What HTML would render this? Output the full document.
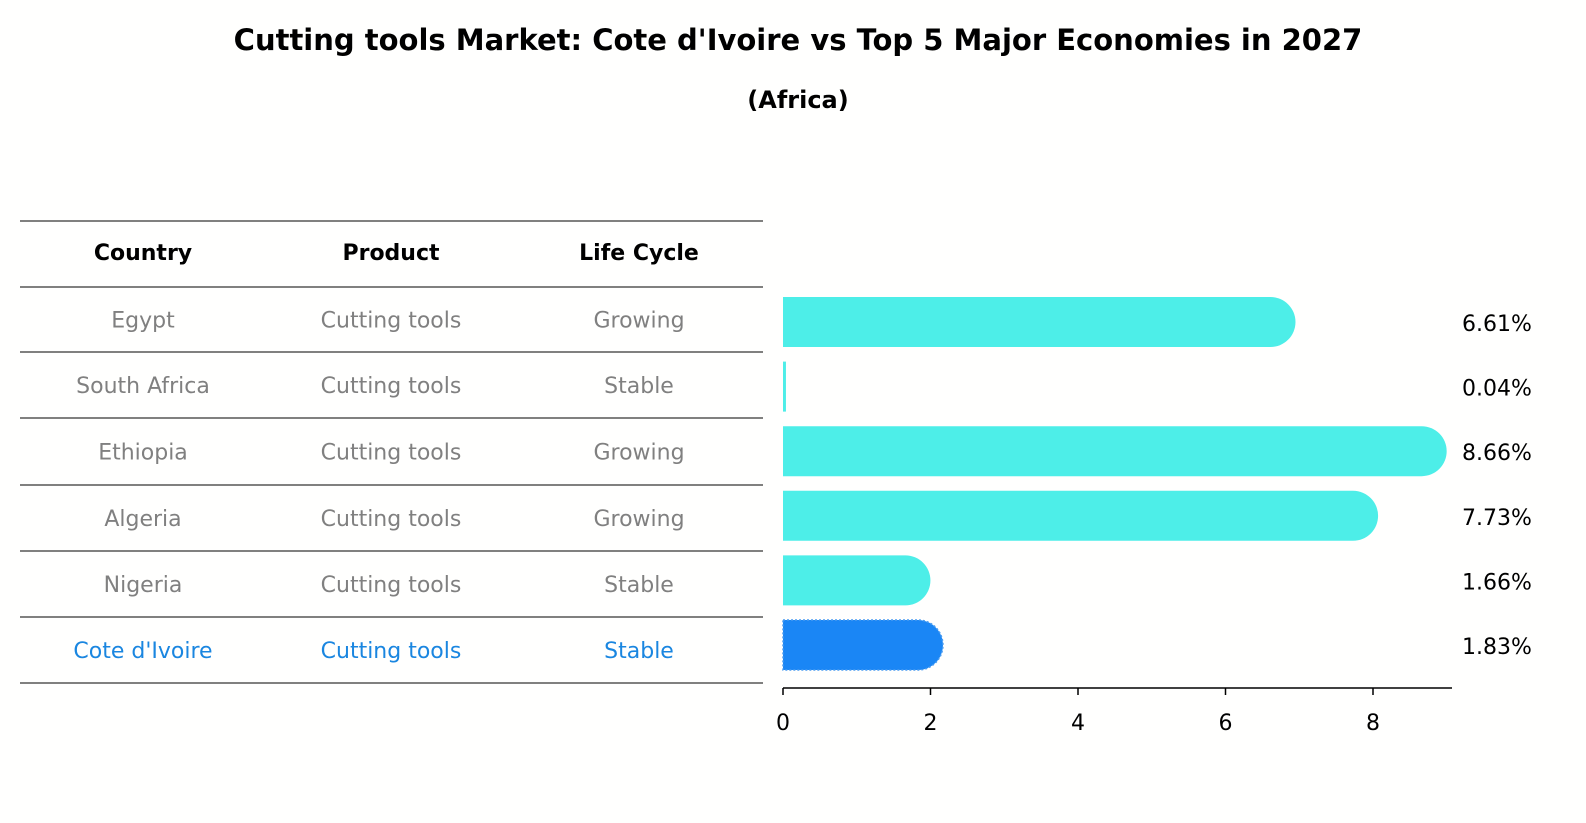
<!DOCTYPE html>
<html><head><meta charset="utf-8"><style>
html,body{margin:0;padding:0;overflow:hidden;background:#fff;font-family:"Liberation Sans","DejaVu Sans",sans-serif}
svg{display:block}
</style></head><body>
<svg id="c" width="1586" height="823" xmlns="http://www.w3.org/2000/svg" font-family="DejaVu Sans, Liberation Sans, sans-serif">
<rect width="1586" height="823" fill="#fffffe"/>
<text x="798" y="50" text-anchor="middle" font-size="29" font-weight="bold">Cutting tools Market: Cote d'Ivoire vs Top 5 Major Economies in 2027</text>
<text x="798" y="108" text-anchor="middle" font-size="24" font-weight="bold">(Africa)</text>
<g id="tbl"></g>
<g id="bars"></g>
</svg>
<script>
const countries=["Egypt","South Africa","Ethiopia","Algeria","Nigeria","Cote d'Ivoire"];
const products=["Cutting tools","Cutting tools","Cutting tools","Cutting tools","Cutting tools","Cutting tools"];
const lifeCycles=["Growing","Stable","Growing","Growing","Stable","Stable"];
const values=[6.61,0.04,8.66,7.73,1.66,1.83];
const ticks=[0,2,4,6,8];
const NS="http://www.w3.org/2000/svg";
function mk(p,t,a,txt){const e=document.createElementNS(NS,t);for(const k in a)e.setAttribute(k,a[k]);if(txt!==undefined)e.textContent=txt;p.appendChild(e);return e;}
const tbl=document.getElementById('tbl'),bars=document.getElementById('bars');
const lines=[221,287,352,418,485,551,617,683];
lines.forEach(y=>{const l=mk(tbl,'line',{x1:20,x2:763,y1:y,y2:y,stroke:'#000','stroke-width':1});

});
const cx=[143,391,639];
["Country","Product","Life Cycle"].forEach((h,i)=>{const t=mk(tbl,'text',{x:cx[i],y:260,'text-anchor':'middle','font-size':22,'font-weight':'bold'},h);

});
const rowY=i=>(lines[i+1]+lines[i+2])/2+8;
countries.forEach((c,i)=>{const col=i===countries.length-1?'#1a86e0':'#808080';
[c,products[i],lifeCycles[i]].forEach((v,j)=>{const t=mk(tbl,'text',{x:cx[j],y:rowY(i),'text-anchor':'middle','font-size':22,fill:col},v);

});});
const x0=783,sc=73.75,xs=v=>x0+v*sc;
const barC=i=>322+i*64.6;
const bh=50;
values.forEach((v,i)=>{const hi=i===values.length-1;const col=hi?'#1a86f5':'#4deee8';
const y=barC(i)-bh/2,w=xs(v)-x0,r=bh/2;
let d;
if(w<r){const ww=Math.max(w,2);d=`M${x0},${y}h${ww}v${bh}h${-ww}z`;}
else d=`M${x0},${y}H${x0+w}a${r},${r} 0 0 1 0,${bh}H${x0}Z`;
const p=mk(bars,'path',{d:d,fill:col});
if(hi){p.setAttribute('stroke','#4a9cf0');p.setAttribute('stroke-dasharray','2,2');p.setAttribute('stroke-width','1.5');}


const t=mk(bars,'text',{x:1462,y:barC(i)+9,'font-size':22},v.toFixed(2)+'%');

});
const ax=mk(bars,'line',{x1:x0,x2:1452,y1:688,y2:688,stroke:'#000','stroke-width':1.5});


ticks.forEach(tv=>{const l=mk(bars,'line',{x1:xs(tv),x2:xs(tv),y1:688,y2:695,stroke:'#000','stroke-width':1.5});


const t=mk(bars,'text',{x:xs(tv),y:730,'text-anchor':'middle','font-size':22},tv);

});
</script>
</body></html>
